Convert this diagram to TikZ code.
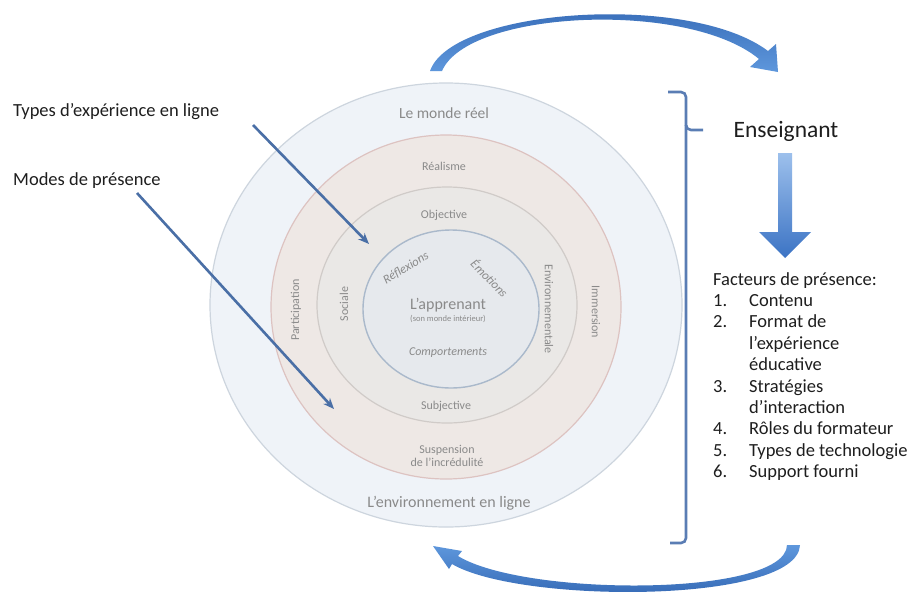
\documentclass[tikz,border=0pt]{standalone}
\usepackage{fontspec}
\setmainfont{Carlito}
\usetikzlibrary{arrows.meta}
\definecolor{ringA}{HTML}{EFF3F8}
\definecolor{ringAline}{HTML}{CDD5DE}
\definecolor{ringB}{HTML}{EEE8E5}
\definecolor{ringBline}{HTML}{DDC3C1}
\definecolor{ringC}{HTML}{EAE8E6}
\definecolor{ringCline}{HTML}{D0CBC8}
\definecolor{ringD}{HTML}{E6E9ED}
\definecolor{ringDline}{HTML}{AAB9CB}
\definecolor{ringtxt}{HTML}{8A8A8A}
\definecolor{pointer}{HTML}{4A6FA6}
\definecolor{bracecol}{HTML}{5A7DB4}
\definecolor{ribdark}{HTML}{2F63B0}
\definecolor{riblight}{HTML}{5E97DC}
\definecolor{bigtop}{HTML}{9DC0EC}
\definecolor{bigbot}{HTML}{3B73C4}
\definecolor{txt}{HTML}{1E1E1E}
\tikzset{
  ringlabel/.style={text=ringtxt, font=\fontsize{12}{14}\selectfont, inner sep=0pt},
  ringbig/.style={text=ringtxt, font=\fontsize{15.5}{18}\selectfont, inner sep=0pt},
  sidelabel/.style={text=txt, font=\fontsize{18.5}{22}\selectfont, inner sep=0pt, anchor=base west},
  pointerarrow/.style={draw=pointer, line width=2.6pt, -{Stealth[length=11pt,width=9pt]}},
  bracestyle/.style={draw=bracecol, line width=2.6pt, rounded corners=5pt},
}
\begin{document}
\begin{tikzpicture}[x=1pt,y=-1pt]
\useasboundingbox (0,0) rectangle (917,595);
\fill[white] (0,0) rectangle (917,595);
% rings
\filldraw[fill=ringA, draw=ringAline, line width=1.2pt] (446,305) ellipse [x radius=236pt, y radius=222pt];
\filldraw[fill=ringB, draw=ringBline, line width=1.2pt] (446,307) ellipse [x radius=175pt, y radius=172pt];
\filldraw[fill=ringC, draw=ringCline, line width=1.2pt] (447,305) ellipse [x radius=130pt, y radius=118pt];
\filldraw[fill=ringD, draw=ringDline, line width=1.4pt] (451,309) ellipse [x radius=88pt, y radius=79pt];
% ring texts
\node[ringbig] (monde) at (444,113) {Le monde réel};
\node[ringlabel] (realisme) at (444,166) {Réalisme};
\node[ringlabel] (objective) at (444,215) {Objective};
\node[ringlabel, font=\itshape\fontsize{12.5}{14}\selectfont, rotate=31] (reflex) at (406,268) {Réflexions};
\node[ringlabel, font=\itshape\fontsize{12.5}{14}\selectfont, rotate=-46] (emot) at (490,278) {Émotions};
\node[ringbig, font=\fontsize{16}{18}\selectfont] (apprenant) at (448,305) {L’apprenant};
\node[ringlabel, font=\fontsize{8.5}{10}\selectfont] (sonmonde) at (448,318.5) {(son monde intérieur)};
\node[ringlabel, font=\itshape\fontsize{12}{14}\selectfont] (comport) at (448,353) {Comportements};
\node[ringlabel] (subjective) at (446,406) {Subjective};
\node[ringlabel, align=center, font=\fontsize{12}{13.5}\selectfont] (suspension) at (447,456) {Suspension\\de l’incrédulité};
\node[ringbig, font=\fontsize{16}{18}\selectfont] (environ) at (449,503) {L’environnement en ligne};
\node[ringlabel, rotate=90] (particip) at (296,310) {Participation};
\node[ringlabel, rotate=90] (sociale) at (344,304) {Sociale};
\node[ringlabel, rotate=-90] (environnementale) at (549,309) {Environnementale};
\node[ringlabel, rotate=-90] (immersion) at (596,312) {Immersion};
% left labels and pointers
\node[sidelabel] (types) at (13,116) {Types d’expérience en ligne};
\node[sidelabel] (modes) at (13,185) {Modes de présence};
\coordinate (p1s) at (253,125);
\coordinate (p1e) at (369,244);
\coordinate (p2s) at (137,193);
\coordinate (p2e) at (334,409);
\draw[pointerarrow] (p1s) -- (p1e);
\draw[pointerarrow] (p2s) -- (p2e);
% bracket
\draw[bracestyle] (668,92) -| (686,130) -- (703,130);
\draw[bracestyle] (686,125) -- (686,543) -- (670,543);
% Enseignant and big arrow
\node[text=txt, font=\fontsize{23.5}{26}\selectfont, inner sep=0pt, anchor=base] (ens) at (786,137) {Enseignant};
\shade[top color=bigtop, bottom color=bigbot] (778,153) -- (792,153) -- (792,232) -- (811,232) -- (785,258) -- (759,232) -- (778,232) -- cycle;
% factors list
\node[sidelabel] (fact) at (713,285) {Facteurs de présence:};
\foreach \n/\t/\yy in {n1/1./306.4, n2/2./327.8, n3/3./392, n4/4./434.8, n5/5./456.2, n6/6./477.6}
  \node[sidelabel] (\n) at (713,\yy) {\t};
\node[sidelabel] (i1) at (749,306.4) {Contenu};
\node[sidelabel] (i2) at (749,327.8) {Format de};
\node[sidelabel] (i2b) at (749,349.2) {l’expérience};
\node[sidelabel] (i2c) at (749,370.6) {éducative};
\node[sidelabel] (i3) at (749,392) {Stratégies};
\node[sidelabel] (i3b) at (749,413.4) {d’interaction};
\node[sidelabel] (i4) at (749,434.8) {Rôles du formateur};
\node[sidelabel] (i5) at (749,456.2) {Types de technologie};
\node[sidelabel] (i6) at (749,477.6) {Support fourni};
% curved ribbon arrows
\shade[top color=ribdark, bottom color=riblight]
  (430,71) .. controls (452,8) and (690,-8) .. (768,51) -- (776,44) -- (778,72) -- (750,67) -- (759,59)
  .. controls (688,0) and (468,10) .. (442,71) -- cycle;
\shade[top color=riblight, bottom color=ribdark]
  (800,545) .. controls (798,604) and (520,604) .. (452,564) -- (449,569) -- (433,546) -- (462,551) -- (458,556)
  .. controls (525,597) and (786,597) .. (787,545) -- cycle;
\end{tikzpicture}
\end{document}
